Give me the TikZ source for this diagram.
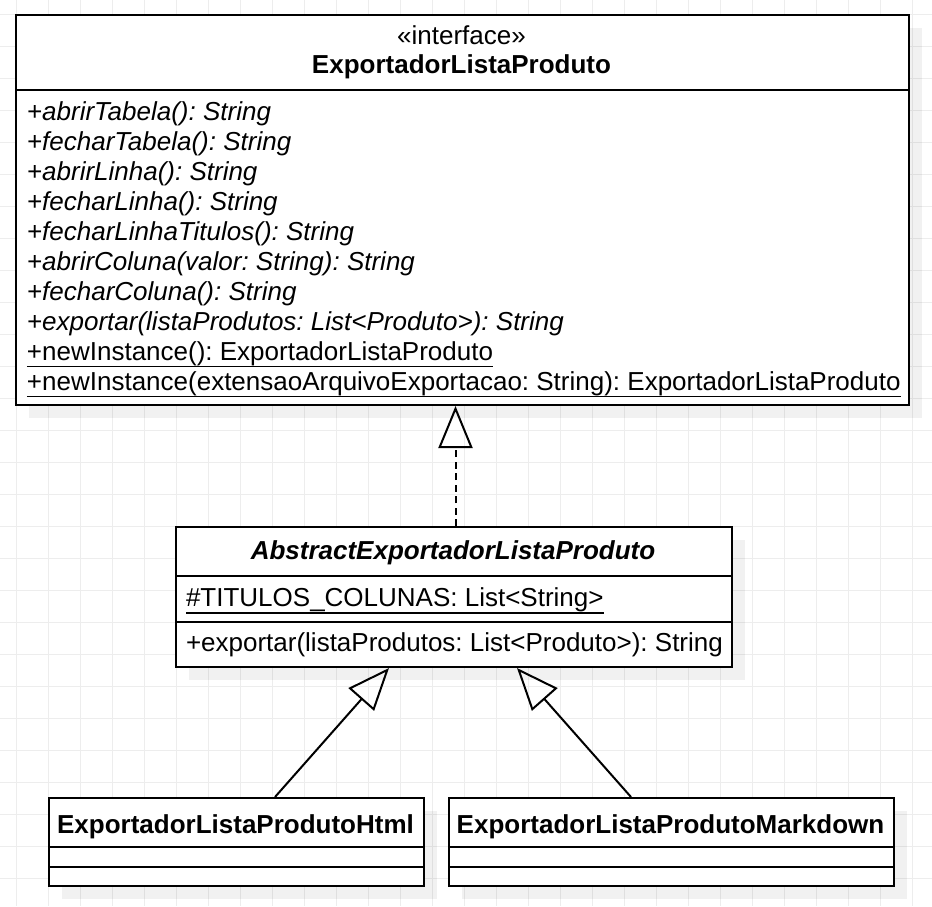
\documentclass[tikz,border=0pt]{standalone}
\usepackage{fontspec}
\setmainfont{Liberation Sans}
\usetikzlibrary{arrows.meta,calc}
\frenchspacing
\newcommand\ulin[1]{\setbox0=\hbox{#1}\rlap{\rule[-7.4pt]{\wd0}{1.8pt}}\box0}
\definecolor{gridc}{HTML}{EDEDED}
\tikzset{
  gridline/.style={draw=gridc, line width=1pt},
  shadowbox/.style={fill=black, fill opacity=0.055, draw=none},
  umlbox/.style={draw=black, fill=white, line width=2pt, rectangle, inner sep=0pt, anchor=north west},
  sepline/.style={draw=black, line width=2pt},
  txt/.style={inner sep=0pt, outer sep=0pt, font=\fontsize{26}{30}\selectfont\frenchspacing},
  conn/.style={draw=black, line width=2pt},
  gen/.style={conn, -{Triangle[open, length=42pt, width=34pt, line width=2pt]}},
  real/.style={gen, dash pattern=on 7pt off 4.5pt},
}
\begin{document}
\begin{tikzpicture}[x=1pt,y=-1pt]
\useasboundingbox (0,0) rectangle (932,906);
\fill[white] (0,0) rectangle (932,906);
% grid
\foreach \i in {0,...,28} {\draw[gridline] ({16.7+32*\i},0) -- ({16.7+32*\i},906);}
\foreach \j in {0,...,28} {\draw[gridline] (0,{14.7+32*\j}) -- (932,{14.7+32*\j});}
% shadows
\fill[shadowbox] (29,28) rectangle (922,418);
\fill[shadowbox] (189,540) rectangle (745,680);
\fill[shadowbox] (62,811) rectangle (437,899);
\fill[shadowbox] (462,811) rectangle (907,899);
% boxes
\node[umlbox, minimum width=893pt, minimum height=390pt] (top) at (15,14) {};
\node[umlbox, minimum width=556pt, minimum height=140pt] (mid) at (175,526) {};
\node[umlbox, minimum width=375pt, minimum height=88pt] (lft) at (48,797) {};
\node[umlbox, minimum width=445pt, minimum height=88pt] (rgt) at (448,797) {};
% separators
\draw[sepline] (top.west |- 0,90) -- (top.east |- 0,90);
\draw[sepline] (mid.west |- 0,576) -- (mid.east |- 0,576);
\draw[sepline] (mid.west |- 0,622) -- (mid.east |- 0,622);
\draw[sepline] (lft.west |- 0,847) -- (lft.east |- 0,847);
\draw[sepline] (lft.west |- 0,867) -- (lft.east |- 0,867);
\draw[sepline] (rgt.west |- 0,847) -- (rgt.east |- 0,847);
\draw[sepline] (rgt.west |- 0,867) -- (rgt.east |- 0,867);
% top box texts
\node[txt, anchor=base] (stereo) at (461.5,44) {«interface»};
\node[txt, anchor=base] (tname) at (461.5,73.5) {\bfseries ExportadorListaProduto};
\node[txt, anchor=base west] (t1) at (27,120) {\itshape +abrirTabela(): String};
\node[txt, anchor=base west] (t2) at (27,150) {\itshape +fecharTabela(): String};
\node[txt, anchor=base west] (t3) at (27,180) {\itshape +abrirLinha(): String};
\node[txt, anchor=base west] (t4) at (27,210) {\itshape +fecharLinha(): String};
\node[txt, anchor=base west] (t5) at (27,240) {\itshape +fecharLinhaTitulos(): String};
\node[txt, anchor=base west] (t6) at (27,270) {\itshape +abrirColuna(valor: String): String};
\node[txt, anchor=base west] (t7) at (27,300) {\itshape +fecharColuna(): String};
\node[txt, anchor=base west] (t8) at (27,330) {\itshape +exportar(listaProdutos: List<Produto>): String};
\node[txt, anchor=base west] (t9) at (27,360) {\ulin{+newInstance(): ExportadorListaProduto}};
\node[txt, anchor=base west] (t10) at (27,390) {\ulin{+newInstance(extensaoArquivoExportacao: String): ExportadorListaProduto}};
% middle box texts
\node[txt, anchor=base] (mname) at (453,559.8) {\bfseries\itshape AbstractExportadorListaProduto};
\node[txt, anchor=base west] (mattr) at (186,606.5) {\ulin{\#TITULOS\_COLUNAS: List<String>}};
\node[txt, anchor=base west] (mop) at (186,651.5) {+exportar(listaProdutos: List<Produto>): String};
% bottom box texts
\node[txt, anchor=base] (lname) at (235.5,833.5) {\bfseries ExportadorListaProdutoHtml};
\node[txt, anchor=base] (rname) at (670.5,833.5) {\bfseries ExportadorListaProdutoMarkdown};
% connectors
\draw[real] ([xshift=1.5pt]mid.north) -- ([xshift=1.5pt]mid.north |- top.south);
\draw[gen] ([xshift=38.5pt]lft.north) -- ([xshift=-65pt]mid.south);
\draw[gen] ([xshift=-40.5pt]rgt.north) -- ([xshift=63pt]mid.south);
\end{tikzpicture}
\end{document}
